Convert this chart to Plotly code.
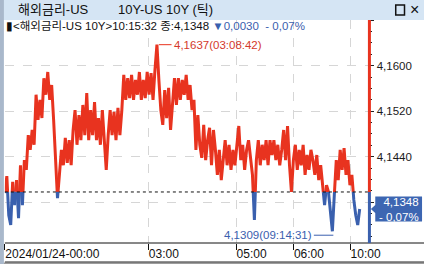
import plotly.graph_objects as go

# ---- data (tick sequence of US 10Y yield) ----
values = [
    4.1376, 4.1406, 4.1337, 4.1320, 4.1396, 4.1355, 4.1399, 4.1332, 4.1425, 4.1355,
    4.1434, 4.1417, 4.1478, 4.1452, 4.1487, 4.1461, 4.1549, 4.1505, 4.1540, 4.1508,
    4.1578, 4.1549, 4.1589, 4.1540, 4.1566, 4.1505, 4.1434, 4.1367, 4.1408, 4.1452,
    4.1425, 4.1473, 4.1429, 4.1469, 4.1425, 4.1487, 4.1522, 4.1461, 4.1513, 4.1469,
    4.1531, 4.1478, 4.1552, 4.1469, 4.1522, 4.1478, 4.1536, 4.1469, 4.1508, 4.1461,
    4.1522, 4.1469, 4.1417, 4.1478, 4.1522, 4.1478, 4.1519, 4.1469, 4.1526, 4.1478,
    4.1522, 4.1584, 4.1540, 4.1578, 4.1543, 4.1584, 4.1540, 4.1575, 4.1549, 4.1589,
    4.1540, 4.1575, 4.1543, 4.1589, 4.1549, 4.1587, 4.1540, 4.1593, 4.1637, 4.1575,
    4.1522, 4.1496, 4.1557, 4.1508, 4.1561, 4.1487, 4.1540, 4.1578, 4.1531, 4.1578,
    4.1540, 4.1575, 4.1549, 4.1584, 4.1540, 4.1566, 4.1522, 4.1540, 4.1452, 4.1513,
    4.1461, 4.1438, 4.1496, 4.1434, 4.1469, 4.1491, 4.1425, 4.1487, 4.1452, 4.1408,
    4.1452, 4.1399, 4.1434, 4.1469, 4.1425, 4.1461, 4.1417, 4.1452, 4.1425, 4.1461,
    4.1494, 4.1434, 4.1461, 4.1417, 4.1452, 4.1469, 4.1434, 4.1408, 4.1329, 4.1434,
    4.1469, 4.1425, 4.1461, 4.1434, 4.1469, 4.1425, 4.1469, 4.1443, 4.1469, 4.1434,
    4.1461, 4.1425, 4.1452, 4.1487, 4.1434, 4.1494, 4.1425, 4.1378, 4.1434, 4.1461,
    4.1417, 4.1452, 4.1425, 4.1461, 4.1408, 4.1443, 4.1417, 4.1452, 4.1434, 4.1408,
    4.1443, 4.1399, 4.1425, 4.1390, 4.1355, 4.1390, 4.1378, 4.1346, 4.1309, 4.1373,
    4.1434, 4.1399, 4.1452, 4.1417, 4.1455, 4.1408, 4.1434, 4.1390, 4.1408, 4.1364,
    4.1337, 4.1320, 4.1348,
]
base_price = 4.1378          # previous close
last_price = 4.1348
last_time = "10:15:32"
change = -0.0030
change_pct = -0.07
high_val, high_idx, high_time = 4.1637, 78, "03:08:42"
low_val, low_idx, low_time = 4.1309, 168, "09:14:31"

time_tick_idx = [0, 73.6, 118.6, 148, 177.1]
time_tick_text = ["2024/01/24-00:00", "03:00", "05:00", "06:00", "10:00"]
price_ticks = [4.1360, 4.1440, 4.1520, 4.1600, 4.1680]
price_tick_text = ["", "4,1440", "4,1520", "4,1600", ""]


def kfmt(v, d=4):
    return f"{v:.{d}f}".replace(".", ",")


# ---- geometry ----
W, H = 435, 264
PX_L, PX_R = 5, 379
PX_T, PX_B = 20, 243
X_RANGE = [0, 187]
Y_BOTTOM = 4.12883
PX_PER_UNIT = 5687.5
Y_TOP = Y_BOTTOM + (PX_B - PX_T) / PX_PER_UNIT


def px(x):
    return x / W


def py(y):
    return 1 - y / H


RED = "#e8331f"
BLUE = "#3a60ae"

# ---- split series into above / below previous close ----
rx, ry, bx, by = [], [], [], []
for i, v in enumerate(values):
    if i > 0:
        p = values[i - 1]
        if p >= base_price and v < base_price:
            xc = i - 1 + (base_price - p) / (v - p)
            rx += [xc, None]; ry += [base_price, None]
            bx.append(xc); by.append(base_price)
        elif p < base_price and v >= base_price:
            xc = i - 1 + (base_price - p) / (v - p)
            bx += [xc, None]; by += [base_price, None]
            rx.append(xc); ry.append(base_price)
    if v >= base_price:
        rx.append(i); ry.append(v)
    else:
        bx.append(i); by.append(v)

fig = go.Figure()
fig.add_trace(go.Scatter(x=rx, y=ry, mode="lines", line=dict(color=RED, width=3),
                         hoverinfo="skip", connectgaps=False))
fig.add_trace(go.Scatter(x=bx, y=by, mode="lines", line=dict(color=BLUE, width=3),
                         hoverinfo="skip", connectgaps=False))

FONT = "Liberation Sans, Arial, Noto Sans CJK KR, sans-serif"

shapes = [
    # title bar
    dict(type="rect", xref="paper", yref="paper", x0=0, x1=1, y0=py(20), y1=1,
         fillcolor="#d5e5f4", line=dict(width=0), layer="below"),
    # left frame
    dict(type="rect", xref="paper", yref="paper", x0=0, x1=px(4), y0=0, y1=1,
         fillcolor="#a9b8cb", line=dict(width=0), layer="above"),
    # bottom frame
    dict(type="rect", xref="paper", yref="paper", x0=px(4), x1=1, y0=0, y1=py(262.5),
         fillcolor="#9c9c9c", line=dict(width=0), layer="above"),
    dict(type="line", xref="paper", yref="paper", x0=px(5), x1=1, y0=py(262), y1=py(262),
         line=dict(color="#222222", width=1)),
    # x axis line
    dict(type="line", xref="paper", yref="paper", x0=px(5), x1=1, y0=py(PX_B), y1=py(PX_B),
         line=dict(color="#111111", width=1)),
    # previous close dashed line
    dict(type="line", xref="paper", yref="y", x0=px(PX_L), x1=px(PX_R), y0=base_price, y1=base_price,
         line=dict(color="#111111", width=1, dash="3px,3px")),
    # right axis line, red above / blue below previous close
    dict(type="line", xref="paper", yref="y", x0=px(PX_R), x1=px(PX_R), y0=base_price, y1=Y_TOP,
         line=dict(color=RED, width=3)),
    dict(type="line", xref="paper", yref="y", x0=px(PX_R), x1=px(PX_R), y0=Y_BOTTOM, y1=base_price,
         line=dict(color=BLUE, width=3)),
    # high / low leader lines
    dict(type="line", xref="x", yref="y", x0=high_idx + 1, x1=high_idx + 7.5, y0=high_val, y1=high_val,
         line=dict(color=RED, width=1)),
    dict(type="line", xref="x", yref="y", x0=low_idx - 9.5, x1=low_idx + 0.5, y0=low_val - 0.0007,
         y1=low_val - 0.0007, line=dict(color=BLUE, width=1)),
]

# last price box with arrow
hh = 12.5 / PX_PER_UNIT
ah = 4 / PX_PER_UNIT
path = (f"M {px(380.5)},{last_price} L {px(385)},{last_price + ah} L {px(385)},{last_price + hh} "
        f"L {px(433)},{last_price + hh} L {px(433)},{last_price - hh} L {px(385)},{last_price - hh} "
        f"L {px(385)},{last_price - ah} Z")
shapes.append(dict(type="path", xref="paper", yref="y", path=path, fillcolor="#3d66b2",
                   line=dict(width=0), layer="above"))
# window square icon
shapes.append(dict(type="rect", xref="paper", yref="paper", x0=px(406), x1=px(415), y0=py(15), y1=py(5),
                   line=dict(color="#111111", width=1.5)))

annotations = [
    dict(text="해외금리-US", x=px(16), y=py(10), xref="paper", yref="paper", xanchor="left",
         yanchor="middle", showarrow=False, font=dict(family=FONT, size=13, color="#111111")),
    dict(text="10Y-US 10Y (틱)", x=px(119), y=py(10), xref="paper", yref="paper", xanchor="left",
         yanchor="middle", showarrow=False, font=dict(family=FONT, size=13, color="#111111")),
    dict(text="×", x=px(425), y=py(10), xref="paper", yref="paper", xanchor="center",
         yanchor="middle", showarrow=False, font=dict(family=FONT, size=16, color="#111111")),
    dict(text=(f"▮&lt;해외금리-US 10Y&gt;{last_time} 종:{kfmt(last_price)} "
               f"<span style='color:{BLUE}'>▼{kfmt(abs(change))}  - {kfmt(abs(change_pct), 2)}%</span>"),
         x=px(4), y=py(26.5), xref="paper", yref="paper", xanchor="left", yanchor="middle",
         showarrow=False, font=dict(family=FONT, size=11.5, color="#111111")),
    dict(text=f"{kfmt(high_val)}({high_time})", x=high_idx + 7.5, y=high_val, xref="x", yref="y",
         xanchor="left", yanchor="middle", showarrow=False,
         font=dict(family=FONT, size=11.5, color="#d4392b")),
    dict(text=f"{kfmt(low_val)}({low_time})", x=low_idx - 9.5, y=low_val - 0.0007, xref="x", yref="y",
         xanchor="right", yanchor="middle", showarrow=False,
         font=dict(family=FONT, size=11.5, color=BLUE)),
    dict(text=f"{kfmt(last_price)}<br>- {kfmt(abs(change_pct), 2)}%", x=px(432), y=last_price,
         xref="paper", yref="y", xanchor="right", yanchor="middle", align="right", showarrow=False,
         font=dict(family=FONT, size=11.5, color="white")),
]

fig.update_layout(
    width=W, height=H,
    margin=dict(l=0, r=0, t=0, b=0),
    paper_bgcolor="white", plot_bgcolor="white",
    showlegend=False,
    shapes=shapes,
    annotations=annotations,
    xaxis=dict(
        domain=[px(PX_L), px(PX_R)], range=X_RANGE, tickmode="array",
        tickvals=time_tick_idx, ticktext=time_tick_text,
        ticklabelposition="outside right", ticks="outside", ticklen=6, tickcolor="#111111",
        tickfont=dict(family=FONT, size=12, color="#111111"),
        showgrid=True, gridcolor="#d6d6d6", griddash="dash", gridwidth=1,
        showline=False, zeroline=False, fixedrange=True,
    ),
    yaxis=dict(
        domain=[py(PX_B), py(PX_T)], range=[Y_BOTTOM, Y_TOP], side="right",
        tickmode="array", tickvals=price_ticks, ticktext=price_tick_text,
        ticks="outside", ticklen=4, tickcolor="#222222",
        tickfont=dict(family=FONT, size=11.5, color="#1a1a1a"),
        minor=dict(ticks="outside", ticklen=2, dtick=0.002, tickcolor="#222222", showgrid=False),
        showgrid=True, gridcolor="#d6d6d6", griddash="dash", gridwidth=1,
        showline=False, zeroline=False, fixedrange=True,
    ),
)

fig.write_html("out.html")
